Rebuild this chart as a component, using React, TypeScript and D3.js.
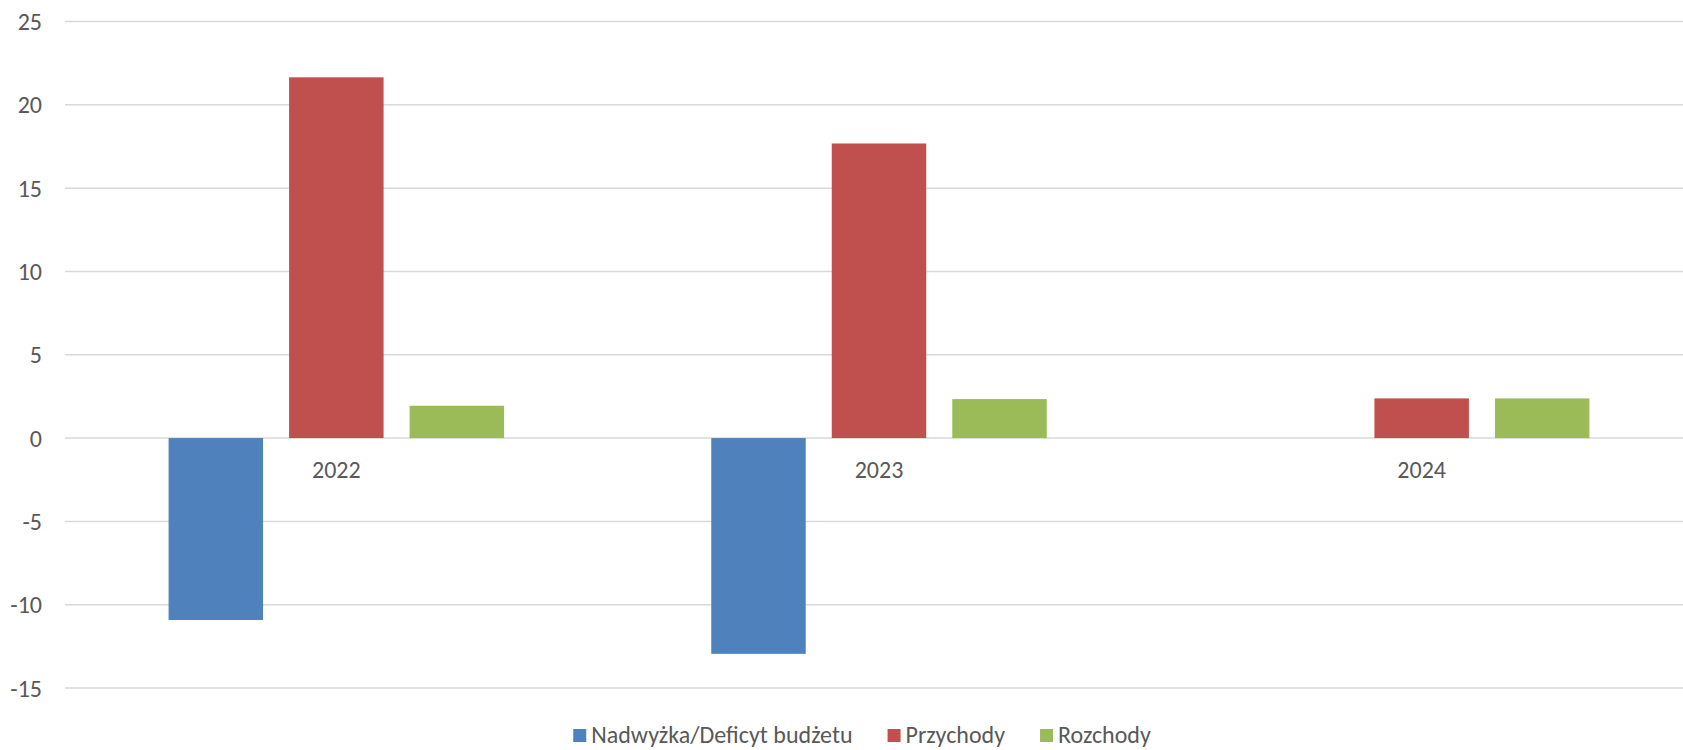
import React, { useRef, useEffect } from 'react'
import * as d3 from 'd3'

// dane
const years = ['2022', '2023', '2024']
const seriesNames = ['Nadwyżka/Deficyt budżetu', 'Przychody', 'Rozchody']
const seriesColors = ['#4f81bd', '#c0504d', '#9bbb59']
const deficit = [-10.92, -12.95, 0]
const revenue = [21.65, 17.68, 2.38]
const expenses = [1.94, 2.34, 2.38]
const yTicks = [-15, -10, -5, 0, 5, 10, 15, 20, 25]

const W = 1683
const H = 750
const FONT = 'Carlito, Calibri, Lato, sans-serif'
const TEXT = '#595959'
const FS = '24px'

export default function App() {
  const svgRef = useRef<SVGSVGElement>(null)

  useEffect(() => {
    if (!svgRef.current) return
    const svg = d3.select(svgRef.current)
    svg.selectAll('*').remove()

    const left = 65
    const right = 1693
    const top = 21.5
    const bottom = 688

    const y = d3.scaleLinear().domain([-15, 25]).range([bottom, top])
    const x0 = d3.scaleBand().domain(years).range([left, right])
    const groupW = 335.5
    const x1 = d3.scaleBand().domain(seriesNames).range([0, groupW]).paddingInner(0.216)

    const values = [deficit, revenue, expenses]

    // siatka
    svg.append('g')
      .selectAll('line')
      .data(yTicks)
      .enter()
      .append('line')
      .attr('x1', left)
      .attr('x2', right)
      .attr('y1', d => y(d))
      .attr('y2', d => y(d))
      .attr('stroke', '#d9d9d9')
      .attr('stroke-width', 1.5)

    // etykiety osi Y
    svg.append('g')
      .selectAll('text')
      .data(yTicks)
      .enter()
      .append('text')
      .attr('x', 42)
      .attr('y', d => y(d))
      .attr('dy', '0.36em')
      .attr('text-anchor', 'end')
      .style('font-family', FONT)
      .style('font-size', FS)
      .style('fill', TEXT)
      .text(d => d)

    // słupki
    seriesNames.forEach((name, si) => {
      svg.append('g')
        .selectAll('rect')
        .data(years.map((yr, i) => ({ yr, v: values[si][i] })))
        .enter()
        .append('rect')
        .attr('x', d => x0(d.yr)! + (x0.bandwidth() - groupW) / 2 + x1(name)!)
        .attr('y', d => y(Math.max(0, d.v)))
        .attr('width', x1.bandwidth())
        .attr('height', d => Math.abs(y(d.v) - y(0)))
        .attr('fill', seriesColors[si])
    })

    // etykiety kategorii
    svg.append('g')
      .selectAll('text')
      .data(years)
      .enter()
      .append('text')
      .attr('x', d => x0(d)! + x0.bandwidth() / 2)
      .attr('y', y(0) + 39.5)
      .attr('text-anchor', 'middle')
      .style('font-family', FONT)
      .style('font-size', FS)
      .style('fill', TEXT)
      .text(d => d)

    // legenda
    const legend = svg.append('g')
    let cx = 0
    const sq = 13
    const gap = 35
    seriesNames.forEach((name, i) => {
      const item = legend.append('g').attr('transform', `translate(${cx},0)`)
      item.append('rect')
        .attr('x', 0)
        .attr('y', -sq - 1)
        .attr('width', sq)
        .attr('height', sq)
        .attr('fill', seriesColors[i])
      const t = item.append('text')
        .attr('x', sq + 5)
        .attr('y', 0)
        .style('font-family', FONT)
        .style('font-size', FS)
        .style('fill', TEXT)
        .text(name)
      const tw = (t.node() as SVGTextElement).getComputedTextLength()
      cx += sq + 5 + tw + gap
    })
    const totalW = cx - gap
    legend.attr('transform', `translate(${862 - totalW / 2},743)`)
  }, [])

  return (
    <div style={{ position: 'fixed', left: 0, top: 0, width: W, height: H, overflow: 'hidden' }}>
      <svg ref={svgRef} width={W} height={H} style={{ display: 'block', background: '#fff' }} />
    </div>
  )
}
